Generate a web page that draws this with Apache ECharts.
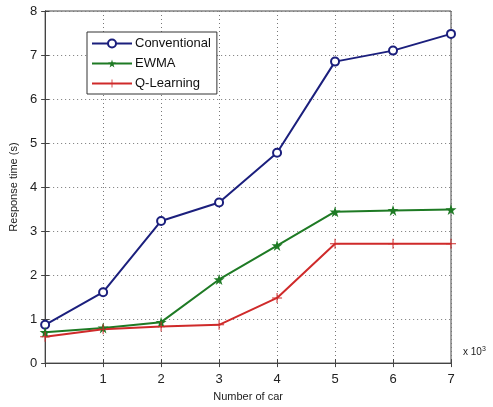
<!DOCTYPE html>
<html>
<head>
<meta charset="utf-8">
<script src="https://cdn.jsdelivr.net/npm/echarts@6/dist/echarts.min.js"></script>
<style>
  html, body { margin: 0; padding: 0; background: #fff; }
  #chart { width: 493px; height: 407px; }
</style>
</head>
<body>
<div id="chart"></div>
<script>
// values (x in thousands of cars)
const cars = [0, 1, 2, 3, 4, 5, 6, 7]
const conventional = [0.87, 1.61, 3.23, 3.65, 4.78, 6.85, 7.1, 7.48]
const ewma = [0.7, 0.8, 0.93, 1.9, 2.67, 3.44, 3.47, 3.49]
const qLearning = [0.6, 0.77, 0.83, 0.87, 1.48, 2.71, 2.71, 2.71]

const STAR = 'path://M50,0L61,35L98,35L68,57L79,91L50,70L21,91L32,57L2,35L39,35Z'
const PLUS = 'path://M45,0H55V45H100V55H55V100H45V55H0V45H45Z'
const FONT = 'Liberation Sans'

const chart = echarts.init(document.getElementById('chart'))

function pairs (ys) {
  return cars.map((x, i) => [x, ys[i]])
}

const dotted = { show: true, lineStyle: { color: '#777', type: [1, 3], width: 1 } }

chart.setOption({
  backgroundColor: '#fff',
  animation: false,
  textStyle: { fontFamily: FONT },
  grid: {
    left: 45, right: 42, top: 11, bottom: 39,
    show: true, borderColor: '#444', borderWidth: 1
  },
  legend: {
    orient: 'vertical',
    left: 87, top: 32,
    padding: [5, 6, 4, 4],
    itemGap: 7,
    itemWidth: 40,
    itemHeight: 10,
    backgroundColor: '#fff',
    borderColor: '#333',
    borderWidth: 1,
    borderRadius: 0,
    textStyle: { fontSize: 13, color: '#111', fontFamily: FONT, padding: [0, 0, 0, -2] },
    data: ['Conventional', 'EWMA', 'Q-Learning']
  },
  xAxis: [{
    type: 'value', min: 0, max: 7, interval: 1,
    name: 'Number of car', nameLocation: 'middle', nameGap: 24,
    nameTextStyle: { fontSize: 11, color: '#222' },
    axisLine: { show: true, lineStyle: { color: '#444' } },
    axisTick: { inside: true, length: 4, lineStyle: { color: '#444' } },
    axisLabel: {
      fontSize: 13, color: '#222', margin: 10,
      formatter: v => v === 0 ? '' : String(v)
    },
    splitLine: dotted
  }, {
    type: 'value', min: 0, max: 7, interval: 1, position: 'top',
    axisLine: { show: true, lineStyle: { color: '#444' } },
    axisTick: { inside: true, length: 4, lineStyle: { color: '#444' } },
    axisLabel: { show: false }, splitLine: { show: false }
  }],
  yAxis: [{
    type: 'value', min: 0, max: 8, interval: 1,
    name: 'Response time (s)', nameLocation: 'middle', nameGap: 26,
    nameTextStyle: { fontSize: 11, color: '#222' },
    axisLine: { show: true, lineStyle: { color: '#444' } },
    axisTick: { inside: true, length: 4, lineStyle: { color: '#444' } },
    axisLabel: { fontSize: 13, color: '#222', margin: 8 },
    splitLine: dotted
  }, {
    type: 'value', min: 0, max: 8, interval: 1, position: 'right',
    axisLine: { show: true, lineStyle: { color: '#444' } },
    axisTick: { inside: true, length: 4, lineStyle: { color: '#444' } },
    axisLabel: { show: false }, splitLine: { show: false }
  }],
  graphic: [{
    type: 'text', left: 463, top: 346,
    style: {
      text: '{a|x 10}{b|3}',
      rich: {
        a: { fontSize: 10, fill: '#222', fontFamily: FONT },
        b: { fontSize: 7, fill: '#222', fontFamily: FONT, verticalAlign: 'top', padding: [0, 0, 6, 0] }
      }
    }
  }],
  series: [{
    name: 'Conventional', type: 'line', data: pairs(conventional),
    symbol: 'emptyCircle', symbolSize: 8,
    lineStyle: { color: '#1b1f7d', width: 2 },
    itemStyle: { color: '#1b1f7d', borderWidth: 1.5 }
  }, {
    name: 'EWMA', type: 'line', data: pairs(ewma),
    symbol: STAR, symbolSize: 11,
    lineStyle: { color: '#1e7a24', width: 2 },
    itemStyle: { color: '#1e7a24' }
  }, {
    name: 'Q-Learning', type: 'line', data: pairs(qLearning),
    symbol: PLUS, symbolSize: 10,
    lineStyle: { color: '#cf2a2a', width: 2 },
    itemStyle: { color: '#cf2a2a' }
  }]
})
</script>
</body>
</html>
